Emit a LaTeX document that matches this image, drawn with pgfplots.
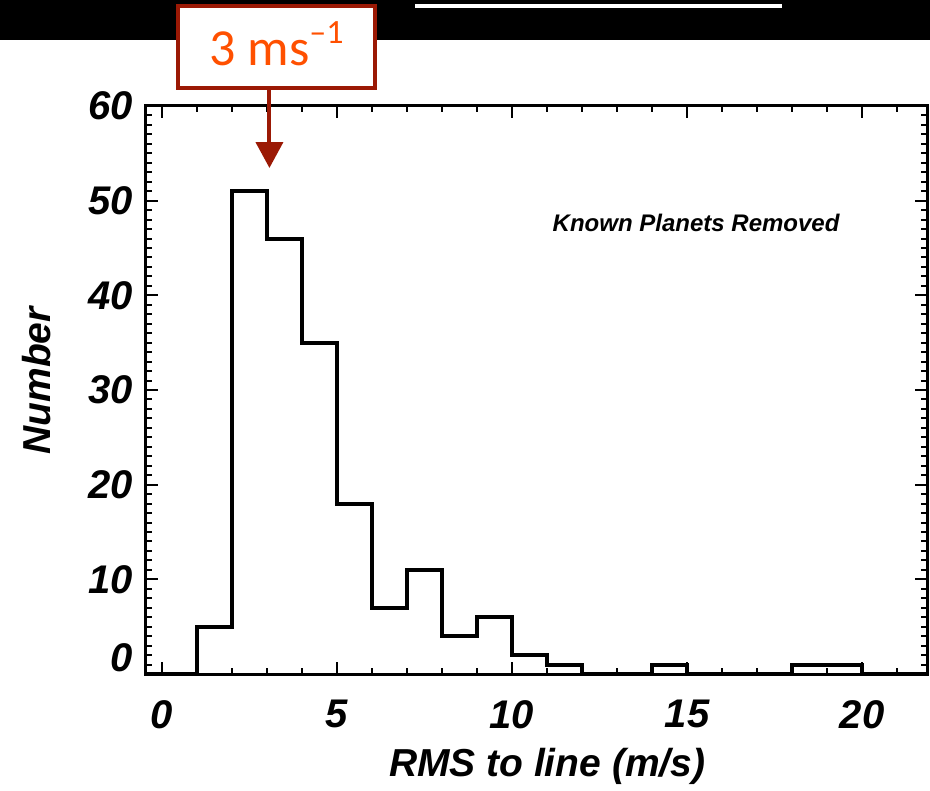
\documentclass[border=0pt]{standalone}
\usepackage{fontspec}
\setmainfont{Liberation Sans}
\newfontfamily\calfont{Carlito}
\usepackage{pgfplots}
\pgfplotsset{compat=1.18}
\usetikzlibrary{arrows.meta}
\definecolor{boxred}{RGB}{155,25,5}
\definecolor{txtorange}{RGB}{255,80,0}
\begin{document}
\begin{tikzpicture}
\path[use as bounding box] (0,0) rectangle (465pt,395.5pt);
\fill[black] (0,375.5pt) rectangle (465pt,395.5pt);
\draw[white, line width=1.75pt] (207.5pt,392.5pt) -- (391pt,392.5pt);
\begin{axis}[
  at={(72.75pt,58.5pt)}, anchor=south west,
  width=390.75pt, height=284pt, scale only axis,
  xmin=-0.471, xmax=21.857, ymin=0, ymax=60,
  clip=false,
  axis line style={line width=1.5pt},
  xtick={0,5,10,15,20},
  minor xtick={0,1,...,21},
  ytick={10,20,...,60},
  extra y ticks={0},
  extra y tick style={yticklabel style={yshift=8pt}},
  minor ytick={0,1,...,60},
  xtick pos=both, ytick pos=both,
  xticklabel pos=left, yticklabel pos=left,
  tick align=inside,
  major tick length=6pt, minor tick length=3pt,
  every tick/.style={black, line width=1pt},
  /pgf/number format/assume math mode=true,
  xticklabel style={font=\fontsize{20}{20}\selectfont\bfseries\itshape, anchor=north, inner sep=0pt, yshift=-13pt},
  yticklabel style={font=\fontsize{20}{20}\selectfont\bfseries\itshape, anchor=east, inner sep=0pt, xshift=-6pt},
  xlabel={RMS to line (m/s)},
  ylabel={Number},
  xlabel style={font=\fontsize{19.5}{20}\selectfont\bfseries\itshape, at={(rel axis cs:0.514,-0.1813)}, anchor=base, inner sep=0pt},
  ylabel style={font=\fontsize{19.5}{20}\selectfont\bfseries\itshape, at={(rel axis cs:-0.1222,0.516)}, anchor=base, inner sep=0pt},
]
\addplot[const plot, black, line width=2pt] coordinates {
  (-0.471,0) (1,5) (2,51) (3,46) (4,35) (5,18) (6,7) (7,11) (8,4) (9,6)
  (10,2) (11,1) (12,0) (13,0) (14,1) (15,0) (16,0) (17,0) (18,1) (19,1)
  (20,0) (21,0) (21.857,0)
};
\node[font=\fontsize{12}{13}\selectfont\bfseries\itshape, anchor=center] at (axis cs:15.26,47.7) {Known Planets Removed};
% annotation
\draw[boxred, line width=2pt, -{Triangle[length=13pt,width=13.5pt]}] (axis cs:3.07,61.9) -- (axis cs:3.07,53.45);
\draw[boxred, line width=2pt, fill=white] (axis cs:0.457,61.9) rectangle (axis cs:6.086,70.56);
\node[txtorange, anchor=base, inner sep=0pt, font=\calfont\fontsize{26}{26}\selectfont] at (axis cs:3.27,64.33) {3 ms\raisebox{0.42em}{\fontsize{17}{17}\selectfont –1}};
\end{axis}
\end{tikzpicture}
\end{document}
